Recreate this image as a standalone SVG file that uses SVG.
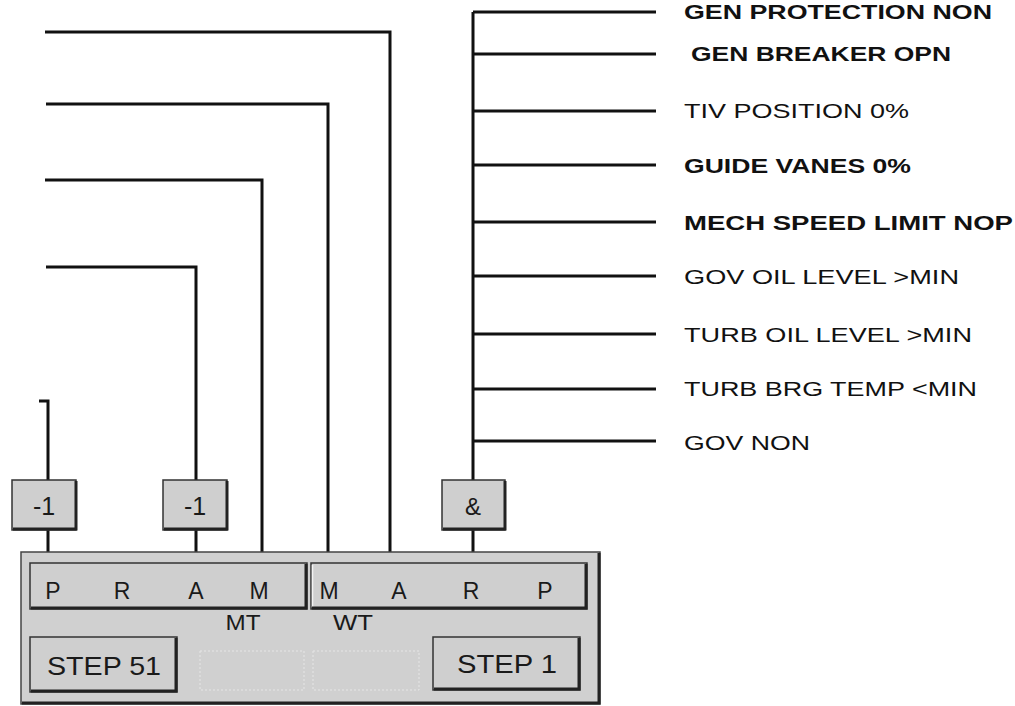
<svg xmlns="http://www.w3.org/2000/svg" width="1015" height="706" viewBox="0 0 1015 706">
<defs>
<style>
.wire{fill:none;stroke:#111;stroke-width:3;stroke-linecap:butt;stroke-linejoin:miter}
.lbl{font-family:"Liberation Sans",Arial,sans-serif;font-size:21px;fill:#111}
.b{font-weight:bold}
.box{fill:#cfcfcf;stroke:#333;stroke-width:1.5}
.shadow{fill:none;stroke:#222;stroke-width:3}
.hl{fill:none;stroke:#f2f2f2;stroke-width:1.5}
.txt{font-family:"Liberation Sans",Arial,sans-serif;fill:#1a1a1a;text-anchor:middle}
.faint{fill:none;stroke:#e6e6e6;stroke-width:1;stroke-dasharray:2 2}
</style>
</defs>
<rect width="1015" height="706" fill="#ffffff"/>

<g id="connectors">
<path class="wire" d="M45,32 H390 V552"/>
<path class="wire" d="M46,104 H328 V552"/>
<path class="wire" d="M45,180 H262 V552"/>
<path class="wire" d="M46,267 H196 V480 M196,530 V552"/>
<path class="wire" d="M39,401 H48 V480 M48,530 V552"/>
<path class="wire" d="M473,12 V480 M473,530 V552"/>
<path class="wire" d="M473,12 H656 M473,54 H656 M473,111 H656 M473,165 H656 M473,222 H656 M473,276 H656 M473,334 H656 M473,389 H656 M473,441 H656"/>
</g>

<g id="labels">
<text class="lbl b" x="684" y="19" textLength="308" lengthAdjust="spacingAndGlyphs">GEN PROTECTION NON</text>
<text class="lbl b" x="691" y="61" textLength="260" lengthAdjust="spacingAndGlyphs">GEN BREAKER OPN</text>
<text class="lbl" x="684" y="118" textLength="225" lengthAdjust="spacingAndGlyphs">TIV POSITION 0%</text>
<text class="lbl b" x="684" y="173" textLength="227" lengthAdjust="spacingAndGlyphs">GUIDE VANES 0%</text>
<text class="lbl b" x="684" y="230" textLength="329" lengthAdjust="spacingAndGlyphs">MECH SPEED LIMIT NOP</text>
<text class="lbl" x="684" y="284" textLength="275" lengthAdjust="spacingAndGlyphs">GOV OIL LEVEL &gt;MIN</text>
<text class="lbl" x="684" y="342" textLength="288" lengthAdjust="spacingAndGlyphs">TURB OIL LEVEL &gt;MIN</text>
<text class="lbl" x="684" y="396" textLength="293" lengthAdjust="spacingAndGlyphs">TURB BRG TEMP &lt;MIN</text>
<text class="lbl" x="684" y="450" textLength="126" lengthAdjust="spacingAndGlyphs">GOV NON</text>
</g>

<g id="not1">
<rect class="box" x="12" y="480" width="64" height="50"/>
<polyline class="shadow" points="13,529 76,529 76,481"/>
<text class="txt" x="44" y="515" font-size="25">-1</text>
</g>
<g id="not2">
<rect class="box" x="163" y="480" width="64" height="50"/>
<polyline class="shadow" points="164,529 227,529 227,481"/>
<text class="txt" x="195" y="515" font-size="25">-1</text>
</g>
<g id="and">
<rect class="box" x="442" y="480" width="63" height="50"/>
<polyline class="shadow" points="443,529 505,529 505,481"/>
<text class="txt" x="473" y="515" font-size="24">&amp;</text>
</g>

<g id="panel">
<rect x="21" y="552" width="579" height="152" fill="#d0d0d0" stroke="#444" stroke-width="1.5"/>
<polyline class="shadow" points="22,703 599,703 599,553"/>
<rect class="faint" x="200" y="651" width="104" height="39"/>
<rect class="faint" x="313" y="651" width="106" height="39"/>
<text class="txt" x="243" y="630" font-size="22" textLength="35" lengthAdjust="spacingAndGlyphs">MT</text>
<text class="txt" x="353" y="630" font-size="22" textLength="40" lengthAdjust="spacingAndGlyphs">WT</text>
</g>

<g id="strip-mt">
<rect class="box" x="30" y="563" width="277" height="46"/>
<polyline class="shadow" points="31,608 306,608 306,564"/>
<text class="txt" x="53" y="599" font-size="23">P</text>
<text class="txt" x="122" y="599" font-size="23">R</text>
<text class="txt" x="196" y="599" font-size="23">A</text>
<text class="txt" x="259" y="599" font-size="23">M</text>
</g>
<g id="strip-wt">
<rect class="box" x="311" y="563" width="276" height="46"/>
<line class="hl" x1="312.5" y1="565" x2="312.5" y2="607"/>
<polyline class="shadow" points="312,608 586,608 586,564"/>
<text class="txt" x="329" y="599" font-size="23">M</text>
<text class="txt" x="399" y="599" font-size="23">A</text>
<text class="txt" x="471" y="599" font-size="23">R</text>
<text class="txt" x="545" y="599" font-size="23">P</text>
</g>

<g id="step51">
<rect class="box" x="30" y="637" width="147" height="55"/>
<polyline class="shadow" points="31,691 176,691 176,638"/>
<text class="txt" x="104" y="675" font-size="25" textLength="114" lengthAdjust="spacingAndGlyphs">STEP 51</text>
</g>
<g id="step1">
<rect class="box" x="433" y="637" width="147" height="53"/>
<polyline class="shadow" points="434,689 579,689 579,638"/>
<text class="txt" x="507" y="673" font-size="25" textLength="100" lengthAdjust="spacingAndGlyphs">STEP 1</text>
</g>
</svg>
